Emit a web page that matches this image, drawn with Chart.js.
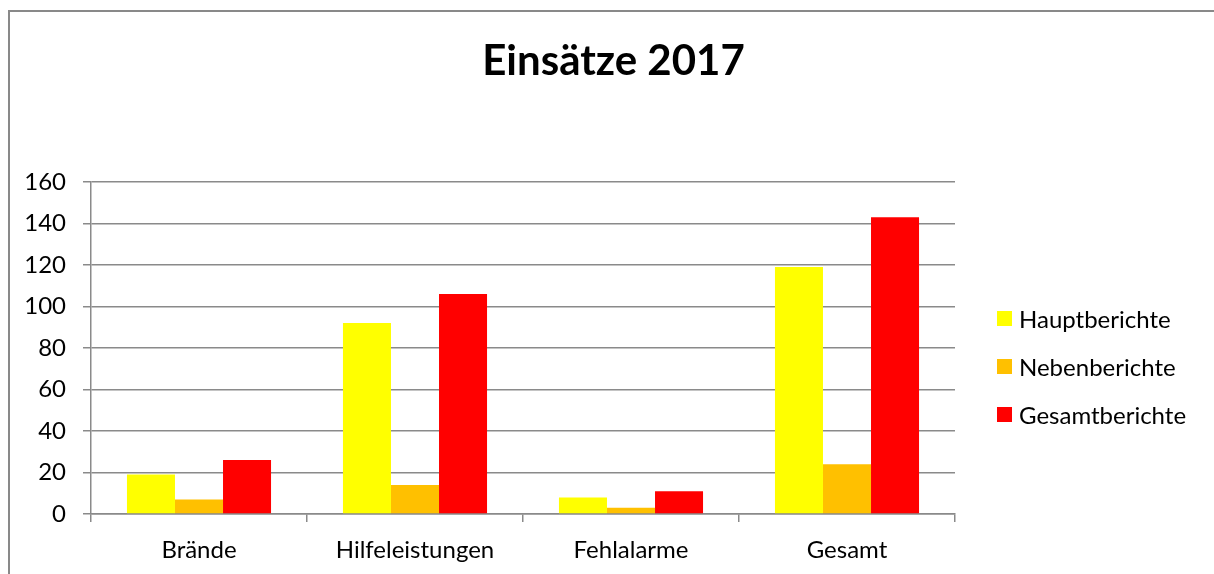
<!DOCTYPE html>
<html>
<head>
<meta charset="utf-8">
<script src="https://cdn.jsdelivr.net/npm/chart.js@4"></script>
<style>
  html, body { margin: 0; padding: 0; background: #fff; overflow: hidden; }
  #wrap { position: relative; width: 1214px; height: 574px; }
  #frame { position: absolute; left: 8px; top: 10px; width: 1400px; height: 800px; border: 2px solid #898989; box-sizing: border-box; }
  #legend { position: absolute; left: 997px; top: 294px; font-family: Lato, sans-serif; font-size: 24px; color: #000; }
  .item { display: flex; align-items: center; height: 48px; }
  .box { width: 15px; height: 15px; margin-right: 7px; }
</style>
</head>
<body>
<div id="wrap">
  <div id="frame"></div>
  <canvas id="chart" width="1214" height="574"></canvas>
  <div id="legend"></div>
</div>
<script>
const categories = ["Brände", "Hilfeleistungen", "Fehlalarme", "Gesamt"];
const seriesNames = ["Hauptberichte", "Nebenberichte", "Gesamtberichte"];
const hauptberichte = [19, 92, 8, 119];
const nebenberichte = [7, 14, 3, 24];
const gesamtberichte = [26, 106, 11, 143];
const colors = ["#FFFF00", "#FFC000", "#FF0000"];
const yTicks = [0, 20, 40, 60, 80, 100, 120, 140, 160];

const seriesValues = [hauptberichte, nebenberichte, gesamtberichte];
const datasets = seriesNames.map(function (name, i) {
  return {
    label: name,
    data: seriesValues[i],
    backgroundColor: colors[i],
    borderWidth: 0,
    barPercentage: 1.0,
    categoryPercentage: 0.667
  };
});

// legend as plain html, built from the series
const legend = document.getElementById("legend");
seriesNames.forEach(function (name, i) {
  legend.innerHTML += `<div class="item"><div class="box" style="background:${colors[i]}"></div><span>${name}</span></div>`;
});

const gridColor = "#8a8a8a";

new Chart(document.getElementById("chart").getContext("2d"), {
  type: "bar",
  data: { labels: categories, datasets: datasets },
  options: {
    responsive: false,
    animation: false,
    layout: { padding: { left: 13, right: 0, top: 0, bottom: 0 } },
    plugins: {
      legend: { display: false },
      tooltip: { enabled: false },
      title: {
        display: true,
        text: "Einsätze 2017",
        color: "#000",
        font: { family: "Lato", size: 42, weight: "bold" },
        padding: { top: 36, bottom: 95.6 }
      }
    },
    scales: {
      x: {
        afterFit: function (scale) { scale.height = 60; },
        grid: { display: true, drawOnChartArea: false, drawTicks: true, tickLength: 8, color: gridColor, lineWidth: 1.5, offset: true },
        border: { display: true, color: gridColor, width: 1.5 },
        ticks: { color: "#000", padding: 13.6, font: { family: "Lato", size: 24 } }
      },
      y: {
        min: 0,
        max: 160,
        afterFit: function (scale) { scale.width = 78; },
        afterBuildTicks: function (scale) { scale.ticks = yTicks.map(v => ({ value: v })); },
        grid: { color: gridColor, lineWidth: 1.5, tickLength: 8 },
        border: { display: true, color: gridColor, width: 1.5 },
        ticks: { color: "#000", padding: 17, font: { family: "Lato", size: 24 } }
      },
      // empty space on the right for the legend
      side: {
        position: "right",
        axis: "y",
        afterFit: function (scale) { scale.width = 259; },
        grid: { display: false },
        border: { display: false },
        ticks: { display: false }
      }
    }
  }
});
</script>
</body>
</html>
